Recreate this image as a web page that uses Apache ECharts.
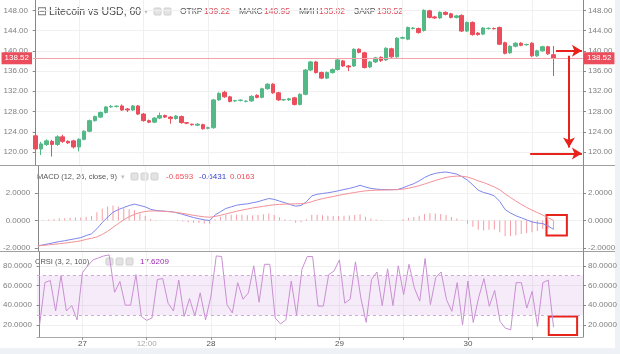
<!DOCTYPE html>
<html>
<head>
<meta charset="utf-8">
<script src="https://cdn.jsdelivr.net/npm/echarts@6/dist/echarts.min.js"></script>
<style>
html, body { margin: 0; padding: 0; background: #eef1f5; }
#paper { position: absolute; left: 0; top: 0; width: 615px; height: 348px; background: #fff; }
#chart { position: absolute; left: 0; top: 0; width: 620px; height: 354px; }
</style>
</head>
<body>
<div id="paper"></div>
<div id="chart"></div>
<script>
// hourly candles, 26th 16:00 .. 30th 16:00, plus 5 empty slots on the right
const categories = [];
for (let i = 0; i < 102; i++) {
	const h = 16 + i;
	categories.push((26 + Math.floor(h / 24)) + ' ' + String(h % 24).padStart(2, '0') + ':00');
}
const xLabels = { '27 00:00': '27', '27 12:00': '12:00', '28 00:00': '28', '29 00:00': '29', '30 00:00': '30' };
const priceTicks = [120, 124, 128, 132, 136, 140, 144, 148];
const macdTicks = [-2, 0, 2];
const crsiTicks = [20, 40, 60, 80];

const opens = [123.2,120.6,121.5,122.1,121.5,123.0,122.1,122.2,121.0,122.5,
	124.1,126.2,126.9,127.8,128.9,129.0,129.1,128.5,128.3,129.1,
	127.5,126.2,125.9,126.7,127.2,126.9,126.6,127.0,125.8,125.5,
	125.3,125.4,124.7,124.8,130.3,131.8,130.9,130.1,130.2,130.0,
	130.1,131.2,130.8,132.5,133.4,131.7,130.3,130.3,130.7,129.4,
	131.4,136.2,137.8,135.7,134.6,135.7,136.3,138.0,137.0,137.0,
	140.3,139.6,136.8,137.8,138.7,138.2,140.4,138.8,142.5,142.3,
	144.4,144.4,144.0,147.9,146.7,146.5,147.6,147.3,146.6,147.0,
	143.9,145.6,143.5,143.3,144.4,144.4,144.6,141.6,139.6,140.9,
	141.5,141.2,141.5,139.0,140.0,140.8,139.22];
const closes = [120.6,121.6,122.2,121.5,123.0,122.1,121.8,121.0,122.5,124.1,
	126.2,127.0,127.8,128.9,129.0,129.05,128.3,128.3,129.1,127.5,
	126.2,125.9,126.7,127.2,126.9,126.6,127.1,125.8,125.7,125.4,
	125.5,124.6,124.8,130.3,131.6,130.9,130.0,130.15,130.25,130.05,
	131.0,130.8,132.5,133.4,131.7,130.3,130.35,130.5,129.4,131.4,
	136.2,137.8,135.7,134.6,135.7,136.3,138.2,137.0,136.8,140.3,
	139.7,136.7,137.8,138.6,138.1,140.5,138.8,142.5,142.6,144.6,
	144.5,143.6,148.0,146.6,146.5,147.6,147.2,146.6,146.9,143.9,
	145.6,143.2,143.2,144.5,144.45,144.35,141.3,139.5,140.9,141.5,
	141.1,141.25,139.0,140.0,140.8,139.4,138.52];
const lows = [120.3,119.4,121.2,119.1,121.2,121.8,121.6,120.7,120.1,122.3,
	123.9,126.0,126.7,127.6,128.8,128.8,128.1,127.9,128.1,127.3,
	126.0,125.7,125.7,126.5,126.7,125.6,126.4,125.6,125.5,125.2,
	125.1,124.4,124.5,124.6,130.1,130.7,129.8,129.9,130.0,129.8,
	129.9,130.6,130.6,132.3,131.5,130.1,130.1,130.1,129.2,129.2,
	131.2,136.0,135.5,134.4,134.4,135.5,136.1,136.8,136.0,136.8,
	139.5,136.5,136.6,137.6,137.8,138.0,138.6,138.6,142.3,142.1,
	144.2,143.4,143.8,146.4,146.3,146.3,147.0,146.4,146.4,143.7,
	143.7,143.0,143.0,143.1,144.2,144.2,141.1,139.3,139.4,140.7,
	140.9,141.0,138.8,138.8,139.8,139.2,135.02];
const highs = [124.7,122.0,122.5,122.4,123.3,123.4,122.3,122.4,122.7,124.3,
	126.4,127.2,128.0,129.1,129.3,129.2,129.4,128.7,129.3,129.3,
	127.7,126.4,126.9,127.8,127.4,127.1,127.3,127.2,125.9,125.6,
	125.7,125.6,125.0,130.5,131.8,132.1,131.1,130.3,130.4,130.2,
	131.2,131.4,132.7,133.6,133.6,131.9,130.5,130.7,130.9,131.6,
	136.4,138.0,138.0,135.9,135.9,136.5,138.4,138.2,137.2,140.5,
	140.5,139.8,138.0,138.8,138.9,140.7,140.6,142.7,142.8,144.8,
	144.7,144.6,148.2,148.1,146.9,147.8,147.8,147.5,147.1,147.2,
	145.8,145.8,143.7,144.7,144.6,144.6,144.8,141.8,141.1,141.7,
	141.7,141.4,141.7,140.2,141.0,141.0,140.95];

const macdLine = [-1.85,-1.78,-1.70,-1.62,-1.54,-1.48,-1.40,-1.33,-1.25,-1.10,
	-0.97,-0.60,-0.15,0.25,0.60,0.80,0.95,1.10,1.20,1.10,
	1.00,0.82,0.74,0.70,0.67,0.64,0.55,0.45,0.33,0.22,
	0.13,0.05,0.00,0.40,0.65,0.88,1.00,1.12,1.18,1.22,
	1.30,1.38,1.50,1.61,1.55,1.42,1.30,1.17,1.05,1.10,
	1.37,1.80,1.92,1.98,2.03,2.10,2.18,2.27,2.35,2.45,
	2.58,2.45,2.35,2.30,2.27,2.26,2.26,2.27,2.40,2.55,
	2.70,2.90,3.15,3.33,3.45,3.52,3.55,3.48,3.40,3.20,
	2.95,2.60,2.22,2.05,1.95,1.80,1.40,0.80,0.55,0.35,
	0.20,0.05,-0.10,-0.18,-0.22,-0.40,-0.64];
const signalLine = [-1.85,-1.82,-1.78,-1.74,-1.70,-1.65,-1.60,-1.55,-1.48,-1.38,
	-1.30,-1.20,-1.02,-0.78,-0.50,-0.22,0.05,0.28,0.45,0.58,
	0.66,0.70,0.70,0.68,0.66,0.63,0.58,0.52,0.45,0.38,
	0.32,0.27,0.24,0.30,0.38,0.48,0.58,0.68,0.76,0.84,
	0.92,0.98,1.04,1.10,1.15,1.18,1.20,1.21,1.22,1.23,
	1.27,1.38,1.50,1.60,1.68,1.76,1.84,1.92,1.99,2.05,
	2.12,2.17,2.20,2.22,2.23,2.24,2.25,2.26,2.30,2.36,
	2.45,2.55,2.67,2.80,2.93,3.05,3.15,3.22,3.25,3.24,
	3.18,3.06,2.90,2.78,2.62,2.45,2.25,1.95,1.68,1.42,
	1.18,0.96,0.76,0.58,0.40,0.20,0.02];
const histogram = [0.00,0.04,0.08,0.12,0.16,0.17,0.20,0.22,0.23,0.28,
	0.33,0.60,0.87,1.03,1.10,1.02,0.90,0.82,0.75,0.52,
	0.34,0.12,0.04,0.02,0.01,0.01,-0.03,-0.07,-0.12,-0.16,
	-0.19,-0.22,-0.24,0.10,0.27,0.40,0.42,0.44,0.42,0.38,
	0.38,0.40,0.46,0.51,0.40,0.24,0.10,-0.04,-0.17,-0.13,
	0.10,0.42,0.42,0.38,0.35,0.34,0.34,0.35,0.36,0.40,
	0.46,0.28,0.15,0.08,0.04,0.02,0.01,0.01,0.10,0.19,
	0.25,0.35,0.48,0.53,0.52,0.47,0.40,0.26,0.15,-0.04,
	-0.23,-0.46,-0.68,-0.73,-0.67,-0.65,-0.85,-1.15,-1.13,-1.07,
	-0.98,-0.91,-0.86,-0.76,-0.62,-0.60,-0.66];
const crsi = [20,63,65,34,70,34,39.5,25,73,80,
	86,88,90,91,53,64,40,40,71,28.5,
	24.5,27,66,67,42,34,65.5,28.5,46.7,29,
	52.5,25,49,90,89.4,40.5,32,62.8,46,52.5,
	80,43,81.5,81.5,27,21,25,64.5,30,76.4,
	89.4,89.4,39,39,71,74.7,86,42,46,84,
	47.4,22.4,66,73.7,39.5,77,39.5,80,50.8,81.5,
	57.6,44,87.4,40.5,68,73.7,45.6,33.7,62.8,20,
	64.4,22.4,47.4,67,38.8,55,23.4,16.6,14.9,62.8,
	62.8,37,54,18.3,62.8,65.5,17.62];

// red hand-drawn annotations, in [slot, value]
const arrows = [
	[[96.5, 140.0], [101.3, 140.0]],
	[[98.9, 139.0], [98.9, 120.9]],
	[[91.7, 119.7], [101.3, 119.7]]
];
const macdBox = [[94.7, 0.4], [98.5, -1.1]];
const crsiBox = [[95.1, 28.5], [100.4, 9.7]];

const FONT = 'Liberation Sans, Arial, sans-serif';
const UP = '#53b987', DOWN = '#eb4d5c', MARK = '#e8231c';
const lastClose = closes[closes.length - 1];

let myChart = echarts.init(document.getElementById('chart'));

const isTick = v => v.endsWith(' 00:00') || v.endsWith(' 12:00');

function catAxis(grid, withLabels) {
	return {
		type: 'category', gridIndex: grid, data: categories, boundaryGap: true,
		axisLine: { show: withLabels, lineStyle: { color: '#aaa' } },
		axisTick: { show: withLabels, alignWithLabel: true, length: 3, interval: (i, v) => isTick(v), lineStyle: { color: '#999' } },
		axisLabel: {
			show: withLabels, margin: 3, fontSize: 8, fontFamily: FONT,
			interval: (i, v) => v in xLabels,
			formatter: v => xLabels[v] === '12:00' ? '{t|12:00}' : '{d|' + xLabels[v] + '}',
			rich: { d: { color: '#555', fontSize: 8, fontFamily: FONT }, t: { color: '#aaa', fontSize: 8, fontFamily: FONT } }
		},
		splitLine: { show: true, alignWithLabel: true, interval: (i, v) => isTick(v), lineStyle: { color: '#f0f0f0' } }
	};
}
function hiddenAxis(grid) {
	return { type: 'value', gridIndex: grid, min: -0.5, max: 101.5, show: false };
}
function yAxisOf(grid, pos, min, max, ticks, digits, split) {
	return {
		type: 'value', gridIndex: grid, position: pos, min: min, max: max,
		axisLine: { show: true, lineStyle: { color: '#888' } },
		axisTick: { show: true, length: 3, customValues: ticks, lineStyle: { color: '#888' } },
		axisLabel: { customValues: ticks, color: '#808080', fontSize: 8, fontFamily: FONT, margin: 5, formatter: v => v.toFixed(digits) },
		splitLine: { show: split, lineStyle: { color: '#f0f0f0' } }
	};
}
function badge(pos) {
	return {
		yAxis: lastClose,
		label: {
			show: true, position: pos, distance: 1, formatter: lastClose.toFixed(2),
			backgroundColor: DOWN, color: '#fff', fontSize: 8, fontFamily: FONT, padding: [2, 3]
		}
	};
}
function txt(x, y, s, color, size) {
	return { type: 'text', x: x, y: y, silent: true, style: { text: s, fill: color, font: size + 'px ' + FONT, verticalAlign: 'middle' } };
}
function icon(x, y) {
	return { type: 'rect', silent: true, shape: { x: x, y: y, width: 7, height: 7, r: 1 }, style: { fill: '#e3e3e3', stroke: '#d0d0d0', lineWidth: 1 } };
}

const option = {
	animation: false,
	textStyle: { fontFamily: FONT },
	grid: [
		{ left: 33, right: 37, top: 0, height: 165 },
		{ left: 33, right: 37, top: 166, height: 85 },
		{ left: 33, right: 37, top: 252, height: 85 }
	],
	xAxis: [catAxis(0, false), catAxis(1, false), catAxis(2, true), hiddenAxis(0), hiddenAxis(1), hiddenAxis(2)],
	yAxis: [
		yAxisOf(0, 'left', 117.43, 150.04, priceTicks, 2, true),
		yAxisOf(0, 'right', 117.43, 150.04, priceTicks, 2, false),
		yAxisOf(1, 'left', -2.23, 3.99, macdTicks, 4, true),
		yAxisOf(1, 'right', -2.23, 3.99, macdTicks, 4, false),
		yAxisOf(2, 'left', 7.6, 94.0, crsiTicks, 4, true),
		yAxisOf(2, 'right', 7.6, 94.0, crsiTicks, 4, false)
	],
	series: [
		{
			name: 'LTCUSD', type: 'candlestick', xAxisIndex: 0, yAxisIndex: 0, barWidth: 4,
			data: opens.map((o, i) => [o, closes[i], lows[i], highs[i]]),
			itemStyle: { color: UP, color0: DOWN, borderColor: UP, borderColor0: DOWN, borderWidth: 1 },
			markLine: {
				silent: true, symbol: 'none',
				lineStyle: { color: '#f4a2aa', width: 1, type: 'solid' },
				data: [badge('start'), badge('end')]
			}
		},
		{
			name: 'arrows', type: 'line', xAxisIndex: 3, yAxisIndex: 0, data: [],
			markLine: {
				silent: true, symbol: ['none', 'arrow'], symbolSize: [9, 10],
				lineStyle: { color: MARK, width: 2, type: 'solid' },
				label: { show: false },
				data: arrows.map(a => [{ coord: a[0] }, { coord: a[1] }])
			}
		},
		{
			name: 'hist', type: 'bar', xAxisIndex: 1, yAxisIndex: 2, barWidth: 1,
			data: histogram, itemStyle: { color: 'rgba(236,92,104,0.6)' }
		},
		{
			name: 'macd', type: 'line', xAxisIndex: 1, yAxisIndex: 2, data: macdLine,
			symbol: 'none', lineStyle: { color: '#7d84ec', width: 1 }
		},
		{
			name: 'signal', type: 'line', xAxisIndex: 1, yAxisIndex: 2, data: signalLine,
			symbol: 'none', lineStyle: { color: '#f39096', width: 1 }
		},
		{
			name: 'macdBox', type: 'line', xAxisIndex: 4, yAxisIndex: 2, data: [],
			markArea: {
				silent: true,
				itemStyle: { color: 'rgba(0,0,0,0)', borderColor: MARK, borderWidth: 2 },
				data: [[{ coord: macdBox[0] }, { coord: macdBox[1] }]]
			}
		},
		{
			name: 'crsi', type: 'line', xAxisIndex: 2, yAxisIndex: 4, data: crsi,
			symbol: 'none', lineStyle: { color: '#c98fd3', width: 1 },
			markArea: {
				silent: true, itemStyle: { color: 'rgba(186,104,200,0.13)' },
				data: [[{ yAxis: 30 }, { yAxis: 70 }]]
			},
			markLine: {
				silent: true, symbol: 'none', label: { show: false },
				lineStyle: { color: '#cfa6d8', width: 1, type: [3, 3] },
				data: [{ yAxis: 30 }, { yAxis: 70 }]
			}
		},
		{
			name: 'crsiBox', type: 'line', xAxisIndex: 5, yAxisIndex: 4, data: [],
			markArea: {
				silent: true,
				itemStyle: { color: 'rgba(0,0,0,0)', borderColor: MARK, borderWidth: 2 },
				data: [[{ coord: crsiBox[0] }, { coord: crsiBox[1] }]]
			}
		}
	],
	graphic: [
		{ type: 'line', silent: true, shape: { x1: 0, y1: 165.5, x2: 615, y2: 165.5 }, style: { stroke: '#a0a0a0', lineWidth: 1 } },
		{ type: 'line', silent: true, shape: { x1: 0, y1: 251.5, x2: 615, y2: 251.5 }, style: { stroke: '#a0a0a0', lineWidth: 1 } },
		// header of the price panel
		txt(37, 12, '⊟', '#777', 12),
		txt(49, 12, 'Litecoin vs USD, 60', '#4a4a4a', 10.5),
		txt(144, 12, '▾', '#c0c0c0', 8),
		icon(154, 8), icon(164, 8),
		txt(180, 12, 'ОТКР', '#555', 8.5), txt(204, 12, '139.22', '#e0505e', 8.5),
		txt(239, 12, 'МАКС', '#555', 8.5), txt(264, 12, '140.95', '#e0505e', 8.5),
		txt(299, 12, 'МИН', '#555', 8.5), txt(319, 12, '135.02', '#e0505e', 8.5),
		txt(354, 12, 'ЗАКР', '#555', 8.5), txt(377, 12, '138.52', '#e0505e', 8.5),
		// header of the MACD panel
		txt(37, 177, 'MACD (12, 26, close, 9)', '#555', 7.5),
		txt(121, 177, '▾', '#c0c0c0', 7),
		icon(131, 173), icon(141, 173), icon(151, 173),
		txt(166, 177, '-0.6593', '#ef4f5c', 8),
		txt(199, 177, '-0.6431', '#3542d0', 8),
		txt(230, 177, '0.0163', '#ef4f5c', 8),
		// header of the CRSI panel
		txt(35, 262, 'CRSI (3, 2, 100)', '#555', 7.5),
		icon(106, 258), icon(116, 258), icon(126, 258),
		txt(140, 262, '17.6209', '#9c2ab0', 8)
	]
};

myChart.setOption(option);
</script>
</body>
</html>
